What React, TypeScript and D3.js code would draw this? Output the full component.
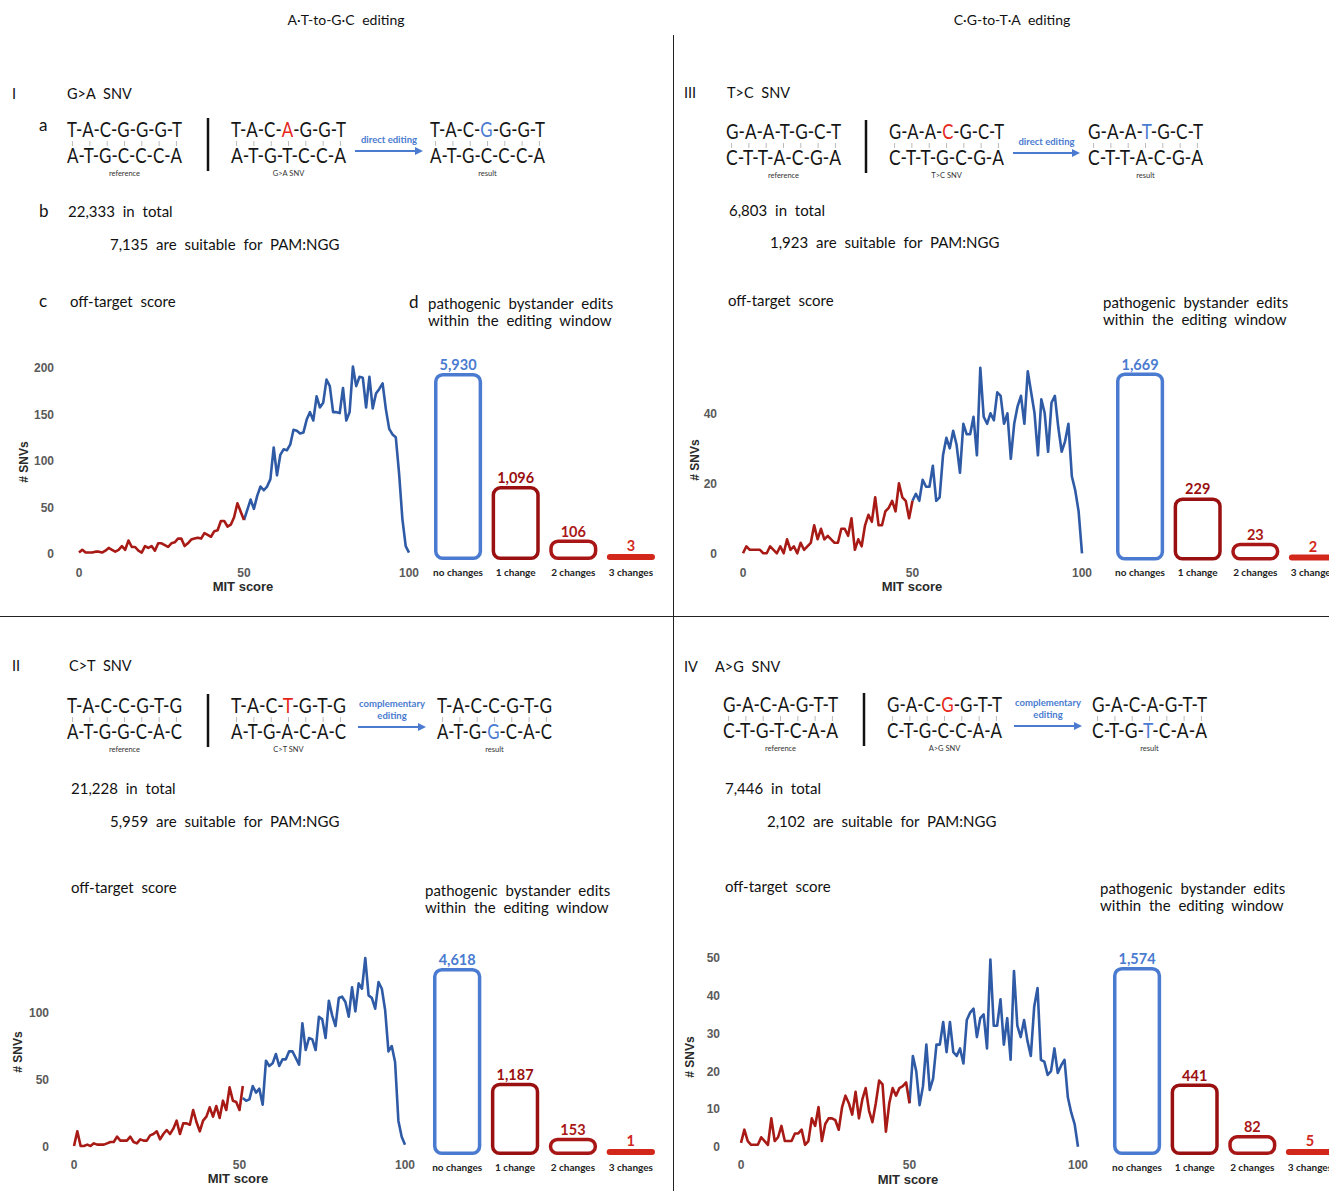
import React from 'react';
import * as d3 from 'd3';

// SNV counts per MIT score. "low" = scores 0..split (red), "high" = split..100 (blue)
const gaLow = [1, 4, 1, 1, 1, 2, 2, 1, 3, 6, 4, 2, 4, 8, 4, 14, 7, 7, 3, 1, 8, 6, 8, 3, 11, 11, 9, 7, 11, 12, 16, 16, 8, 11, 15, 16, 17, 16, 22, 20, 18, 24, 25, 35, 35, 29, 31, 39, 54, 45, 36];
const gaHigh = [36, 47, 58, 48, 62, 72, 68, 72, 80, 114, 84, 106, 112, 111, 117, 133, 132, 129, 130, 144, 152, 143, 169, 157, 162, 187, 180, 152, 152, 151, 178, 143, 152, 201, 180, 190, 189, 157, 190, 156, 172, 177, 183, 155, 134, 128, 125, 86, 37, 8, 1];
const gaHighStart = 50;

const ctLow = [0, 11, 0, 0, 1, 0, 2, 1, 1, 1, 2, 3, 3, 7, 4, 4, 4, 7, 3, 2, 5, 4, 4, 8, 9, 11, 5, 9, 12, 9, 13, 19, 9, 17, 17, 16, 27, 18, 11, 19, 22, 29, 22, 30, 21, 34, 27, 44, 34, 33, 27, 45];
const ctHigh = [36, 34, 35, 45, 40, 43, 31, 64, 60, 62, 69, 60, 65, 65, 71, 71, 66, 61, 92, 72, 81, 80, 72, 97, 95, 81, 109, 98, 90, 111, 112, 108, 97, 119, 101, 122, 118, 141, 113, 111, 103, 123, 118, 102, 71, 75, 63, 19, 7, 1];
const ctHighStart = 51;

const tcLow = [0, 2, 1, 1, 1, 1, 0, 0, 2, 1, 0, 2, 0, 4, 1, 2, 0, 3, 1, 2, 3, 8, 4, 7, 4, 5, 4, 3, 3, 7, 7, 5, 10, 1, 4, 2, 8, 11, 9, 16, 8, 8, 12, 13, 15, 12, 20, 16, 15, 10, 15];
const tcHigh = [15, 17, 15, 21, 19, 19, 25, 15, 16, 28, 33, 30, 35, 31, 23, 37, 34, 34, 39, 28, 53, 39, 37, 40, 38, 46, 45, 37, 40, 27, 37, 42, 45, 37, 52, 46, 40, 28, 44, 40, 29, 43, 45, 36, 29, 32, 37, 22, 18, 12, 0];
const tcHighStart = 50;

const agLow = [1, 4.5, 1.5, 0.5, 0.5, 0.5, 2.5, 1.5, 0.5, 7.5, 1.5, 2.5, 5.5, 1.5, 1.5, 1.5, 3.5, 3.5, 4.5, 0.5, 1.5, 7.5, 5.5, 10.5, 1.5, 6, 7.5, 7.5, 7, 4.5, 10.5, 13.5, 11.5, 8.5, 14.5, 7.5, 12.5, 15.5, 9.5, 6.5, 11.5, 17.5, 16.5, 4, 11.5, 15.5, 13.5, 15.5, 16, 17, 11.5];
const agHigh = [11.5, 24, 20, 11, 16, 27, 15, 18, 27, 27, 33, 25, 33, 25, 24, 26, 22, 33.5, 35.5, 36.5, 29, 34, 35, 26, 49.5, 32, 32, 39, 27, 34, 23, 46.5, 32, 29, 33.5, 28, 24, 37, 42, 23, 22.5, 19, 20, 26, 19.5, 21.5, 23, 13, 9, 6, 0];
const agHighStart = 50;

// pathogenic bystander edits within the editing window
const barCategories = ['no changes', '1 change', '2 changes', '3 changes'];
const gaBystander = [5930, 1096, 106, 3];
const ctBystander = [4618, 1187, 153, 1];
const tcBystander = [1669, 229, 23, 2];
const agBystander = [1574, 441, 82, 5];

// [in total, suitable for PAM:NGG]
const gaTotals = [22333, 7135];
const ctTotals = [21228, 5959];
const tcTotals = [6803, 1923];
const agTotals = [7446, 2102];

// reference top/bottom, SNV top/bottom, result top/bottom
const gaSeqs = ['T-A-C-G-G-G-T', 'A-T-G-C-C-C-A', 'T-A-C-A-G-G-T', 'A-T-G-T-C-C-A', 'T-A-C-G-G-G-T', 'A-T-G-C-C-C-A'];
const ctSeqs = ['T-A-C-C-G-T-G', 'A-T-G-G-C-A-C', 'T-A-C-T-G-T-G', 'A-T-G-A-C-A-C', 'T-A-C-C-G-T-G', 'A-T-G-G-C-A-C'];
const tcSeqs = ['G-A-A-T-G-C-T', 'C-T-T-A-C-G-A', 'G-A-A-C-G-C-T', 'C-T-T-G-C-G-A', 'G-A-A-T-G-C-T', 'C-T-T-A-C-G-A'];
const agSeqs = ['G-A-C-A-G-T-T', 'C-T-G-T-C-A-A', 'G-A-C-G-G-T-T', 'C-T-G-C-C-A-A', 'G-A-C-A-G-T-T', 'C-T-G-T-C-A-A'];

const FONT = 'Lato, "Open Sans", sans-serif';
const AXIS_FONT = '"Liberation Sans", Arial, sans-serif';
const LINE_RED = '#a81a15';
const LINE_BLUE = '#2f5aa5';
const EDIT_BLUE = '#4a7bd0';
const SNV_RED = '#e6261b';
const barColors = ['#4a7bd0', '#9a1010', '#a91616', '#d2281c'];
const fmt = d3.format(',');

const Strand = ({ x, y, seq, hi, color, w = 115 }: any) => {
  const k = hi == null ? -1 : hi * 2;
  return (
    <text x={x} y={y} fontSize={22} fontFamily={FONT} fill="#161616" textLength={w} lengthAdjust="spacingAndGlyphs">
      {k < 0 ? seq : (
        <>
          <tspan>{seq.slice(0, k)}</tspan>
          <tspan fill={color}>{seq[k]}</tspan>
          <tspan>{seq.slice(k + 1)}</tspan>
        </>
      )}
    </text>
  );
};

const DnaPair = ({ x, y, top, bottom, label, hiTop, hiBottom, color }: any) => {
  const w = 115;
  const L = w / 10.3;
  const bases = d3.range(7).map(i => x + L / 2 + i * 1.55 * L);
  return (
    <g>
      <Strand x={x} y={y} seq={top} hi={hiTop} color={color} />
      {bases.map((bx, i) => (
        <line key={i} x1={bx} x2={bx} y1={y + 4} y2={y + 9} stroke="#bbb" strokeWidth={1} />
      ))}
      <Strand x={x} y={y + 26} seq={bottom} hi={hiBottom} color={color} />
      <text x={x + w / 2} y={y + 39} fontSize={7.5} fontFamily={FONT} textAnchor="middle" fill="#333">{label}</text>
    </g>
  );
};

const Arrow = ({ x1, x2, y, lines }: any) => (
  <g>
    <line x1={x1} x2={x2 - 6} y1={y} y2={y} stroke={EDIT_BLUE} strokeWidth={2} />
    <path d={`M${x2},${y} L${x2 - 8},${y - 4} L${x2 - 8},${y + 4} Z`} fill={EDIT_BLUE} />
    {lines.map((t: string, i: number) => (
      <text key={i} x={(x1 + x2) / 2} y={y - 8 - (lines.length - 1 - i) * 12} fontSize={9.5} fontWeight={700}
        fontFamily={FONT} fill={EDIT_BLUE} textAnchor="middle">{t}</text>
    ))}
  </g>
);

const DnaRow = ({ seqs, xs, y, barX, arrow, snvLabel, resultBottom }: any) => (
  <g>
    <DnaPair x={xs[0]} y={y} top={seqs[0]} bottom={seqs[1]} label="reference" />
    <line x1={barX} x2={barX} y1={y - 19} y2={y + 34} stroke="#111" strokeWidth={2.5} />
    <DnaPair x={xs[1]} y={y} top={seqs[2]} bottom={seqs[3]} label={snvLabel} hiTop={3} color={SNV_RED} />
    <Arrow x1={arrow[0]} x2={arrow[1]} y={y + 14} lines={arrow[2]} />
    <DnaPair x={xs[2]} y={y} top={seqs[4]} bottom={seqs[5]} label="result"
      hiTop={resultBottom ? undefined : 3} hiBottom={resultBottom ? 3 : undefined} color={EDIT_BLUE} />
  </g>
);

const ScoreChart = ({ low, high, highStart, yMax, yTicks, xr, yr, yLabelX, xLabelY, mit, snv }: any) => {
  const x = d3.scaleLinear().domain([0, 100]).range(xr);
  const y = d3.scaleLinear().domain([0, yMax]).range(yr);
  const lowLine = d3.line<number>().x((d, i) => x(i)).y(d => y(d));
  const highLine = d3.line<number>().x((d, i) => x(i + highStart)).y(d => y(d));
  return (
    <g>
      {yTicks.map((t: number) => (
        <text key={t} x={yLabelX} y={y(t) + 4.5} textAnchor="end" fontSize={12} fontWeight={700}
          fontFamily={AXIS_FONT} fill="#5a5a5a">{t}</text>
      ))}
      {[0, 50, 100].map(t => (
        <text key={t} x={x(t)} y={xLabelY} textAnchor="middle" fontSize={12} fontWeight={700}
          fontFamily={AXIS_FONT} fill="#5a5a5a">{t}</text>
      ))}
      <text x={mit[0]} y={mit[1]} textAnchor="middle" fontSize={13} fontWeight={700} fontFamily={AXIS_FONT} fill="#2a2a2a">MIT score</text>
      <text transform={`translate(${snv[0]},${snv[1]}) rotate(-90)`} textAnchor="middle" fontSize={12}
        fontWeight={700} fontFamily={AXIS_FONT} fill="#2a2a2a">{'# SNVs'}</text>
      <path d={highLine(high) || ''} fill="none" stroke={LINE_BLUE} strokeWidth={2.6} strokeLinejoin="round" />
      <path d={lowLine(low) || ''} fill="none" stroke={LINE_RED} strokeWidth={2.6} strokeLinejoin="round" />
    </g>
  );
};

const BystanderBars = ({ values, exponent, xr, bottom, maxH, labelY }: any) => {
  const xb = d3.scaleBand().domain(barCategories).range(xr).paddingInner(0.165).paddingOuter(0);
  const h = d3.scalePow().exponent(exponent).domain([0, d3.max(values) as number]).range([0, maxH]);
  const sw = 3.5;
  return (
    <g>
      {barCategories.map((c, i) => {
        const bh = Math.max(6, h(values[i]));
        const bx = xb(c) as number;
        return (
          <g key={c}>
            <rect x={bx + sw / 2} y={bottom - bh + sw / 2} width={xb.bandwidth() - sw} height={bh - sw}
              rx={Math.min(7, (bh - sw) / 2)} fill="none" stroke={barColors[i]} strokeWidth={sw} />
            <text x={bx + xb.bandwidth() / 2} y={bottom - bh - 3} textAnchor="middle" fontSize={14.5}
              fontWeight={700} fontFamily={FONT} fill={barColors[i]}>{fmt(values[i])}</text>
            <text x={bx + xb.bandwidth() / 2} y={labelY} textAnchor="middle" fontSize={10}
              fontWeight={700} fontFamily={FONT} fill="#222">{c}</text>
          </g>
        );
      })}
    </g>
  );
};

const T = ({ x, y, size = 15, children, anchor = 'start', weight = 400 }: any) => (
  <text x={x} y={y} fontSize={size} fontFamily={FONT} fill="#111" wordSpacing={4}
    textAnchor={anchor} fontWeight={weight}>{children}</text>
);

const App = () => {
  return (
    <div style={{ position: 'absolute', left: 0, top: 0 }}>
      <svg width={1329} height={1191} style={{ display: 'block', background: '#fff' }}>
        <rect width={1329} height={1191} fill="#fff" />
        {/* frame lines */}
        <line x1={0} x2={1329} y1={616.5} y2={616.5} stroke="#222" strokeWidth={1} />
        <line x1={673.5} x2={673.5} y1={35} y2={1191} stroke="#222" strokeWidth={1} />

        <T x={346} y={25} size={14} anchor="middle">A·T-to-G·C editing</T>
        <T x={1012} y={25} size={14} anchor="middle">C·G-to-T·A editing</T>

        {/* Panel I : G>A */}
        <T x={12} y={99} size={14.5}>I</T>
        <T x={67} y={99} size={14.5}>G&gt;A SNV</T>
        <T x={39} y={131} size={17}>a</T>
        <DnaRow seqs={gaSeqs} xs={[67, 231, 430]} y={137} barX={208}
          arrow={[355, 423, ['direct editing']]} snvLabel="G>A SNV" />
        <T x={39} y={217} size={17}>b</T>
        <T x={68} y={217}>{`${fmt(gaTotals[0])} in total`}</T>
        <T x={110} y={250}>{`${fmt(gaTotals[1])} are suitable for PAM:NGG`}</T>
        <T x={39} y={307} size={17}>c</T>
        <T x={70} y={307}>off-target score</T>
        <T x={409} y={308} size={17}>d</T>
        <T x={428} y={309}>pathogenic bystander edits</T>
        <T x={428} y={326}>within the editing window</T>
        <ScoreChart low={gaLow} high={gaHigh} highStart={gaHighStart} yMax={200} yTicks={[0, 50, 100, 150, 200]}
          xr={[79, 409]} yr={[553.5, 367.5]} yLabelX={54} xLabelY={577} mit={[243, 591]} snv={[28, 462]} />
        <BystanderBars values={gaBystander} exponent={0.55} xr={[434, 655]} bottom={560} maxH={187} labelY={576} />

        {/* Panel III : T>C */}
        <T x={684} y={98} size={14.5}>III</T>
        <T x={727} y={98} size={14.5}>T&gt;C SNV</T>
        <DnaRow seqs={tcSeqs} xs={[726, 889, 1088]} y={139} barX={866}
          arrow={[1013, 1080, ['direct editing']]} snvLabel="T>C SNV" />
        <T x={729} y={216}>{`${fmt(tcTotals[0])} in total`}</T>
        <T x={770} y={248}>{`${fmt(tcTotals[1])} are suitable for PAM:NGG`}</T>
        <T x={728} y={306}>off-target score</T>
        <T x={1103} y={308}>pathogenic bystander edits</T>
        <T x={1103} y={325}>within the editing window</T>
        <ScoreChart low={tcLow} high={tcHigh} highStart={tcHighStart} yMax={40} yTicks={[0, 20, 40]}
          xr={[743, 1082]} yr={[553.3, 413.3]} yLabelX={717} xLabelY={577} mit={[912, 591]} snv={[699, 460]} />
        <BystanderBars values={tcBystander} exponent={0.55} xr={[1116, 1337]} bottom={560.5} maxH={188} labelY={576} />

        {/* Panel II : C>T */}
        <T x={12} y={671} size={14.5}>II</T>
        <T x={69} y={671} size={14.5}>C&gt;T SNV</T>
        <DnaRow seqs={ctSeqs} xs={[67, 231, 437]} y={713} barX={208}
          arrow={[358, 426, ['complementary', 'editing']]} snvLabel="C>T SNV" resultBottom />
        <T x={71} y={794}>{`${fmt(ctTotals[0])} in total`}</T>
        <T x={110} y={827}>{`${fmt(ctTotals[1])} are suitable for PAM:NGG`}</T>
        <T x={71} y={893}>off-target score</T>
        <T x={425} y={896}>pathogenic bystander edits</T>
        <T x={425} y={913}>within the editing window</T>
        <ScoreChart low={ctLow} high={ctHigh} highStart={ctHighStart} yMax={100} yTicks={[0, 50, 100]}
          xr={[74, 405]} yr={[1146, 1012.7]} yLabelX={49} xLabelY={1169} mit={[238, 1183]} snv={[22, 1052]} />
        <BystanderBars values={ctBystander} exponent={0.7} xr={[433, 655]} bottom={1155} maxH={187} labelY={1171} />

        {/* Panel IV : A>G */}
        <T x={684} y={672} size={14.5}>IV</T>
        <T x={715} y={672} size={14.5}>A&gt;G SNV</T>
        <DnaRow seqs={agSeqs} xs={[723, 887, 1092]} y={712} barX={864}
          arrow={[1014, 1082, ['complementary', 'editing']]} snvLabel="A>G SNV" resultBottom />
        <T x={725} y={794}>{`${fmt(agTotals[0])} in total`}</T>
        <T x={767} y={827}>{`${fmt(agTotals[1])} are suitable for PAM:NGG`}</T>
        <T x={725} y={892}>off-target score</T>
        <T x={1100} y={894}>pathogenic bystander edits</T>
        <T x={1100} y={911}>within the editing window</T>
        <ScoreChart low={agLow} high={agHigh} highStart={agHighStart} yMax={50} yTicks={[0, 10, 20, 30, 40, 50]}
          xr={[741, 1078]} yr={[1146.7, 957.7]} yLabelX={720} xLabelY={1169} mit={[908, 1184]} snv={[694, 1057]} />
        <BystanderBars values={agBystander} exponent={0.76} xr={[1113, 1334]} bottom={1155} maxH={188} labelY={1171} />
      </svg>
    </div>
  );
};

export default App;
